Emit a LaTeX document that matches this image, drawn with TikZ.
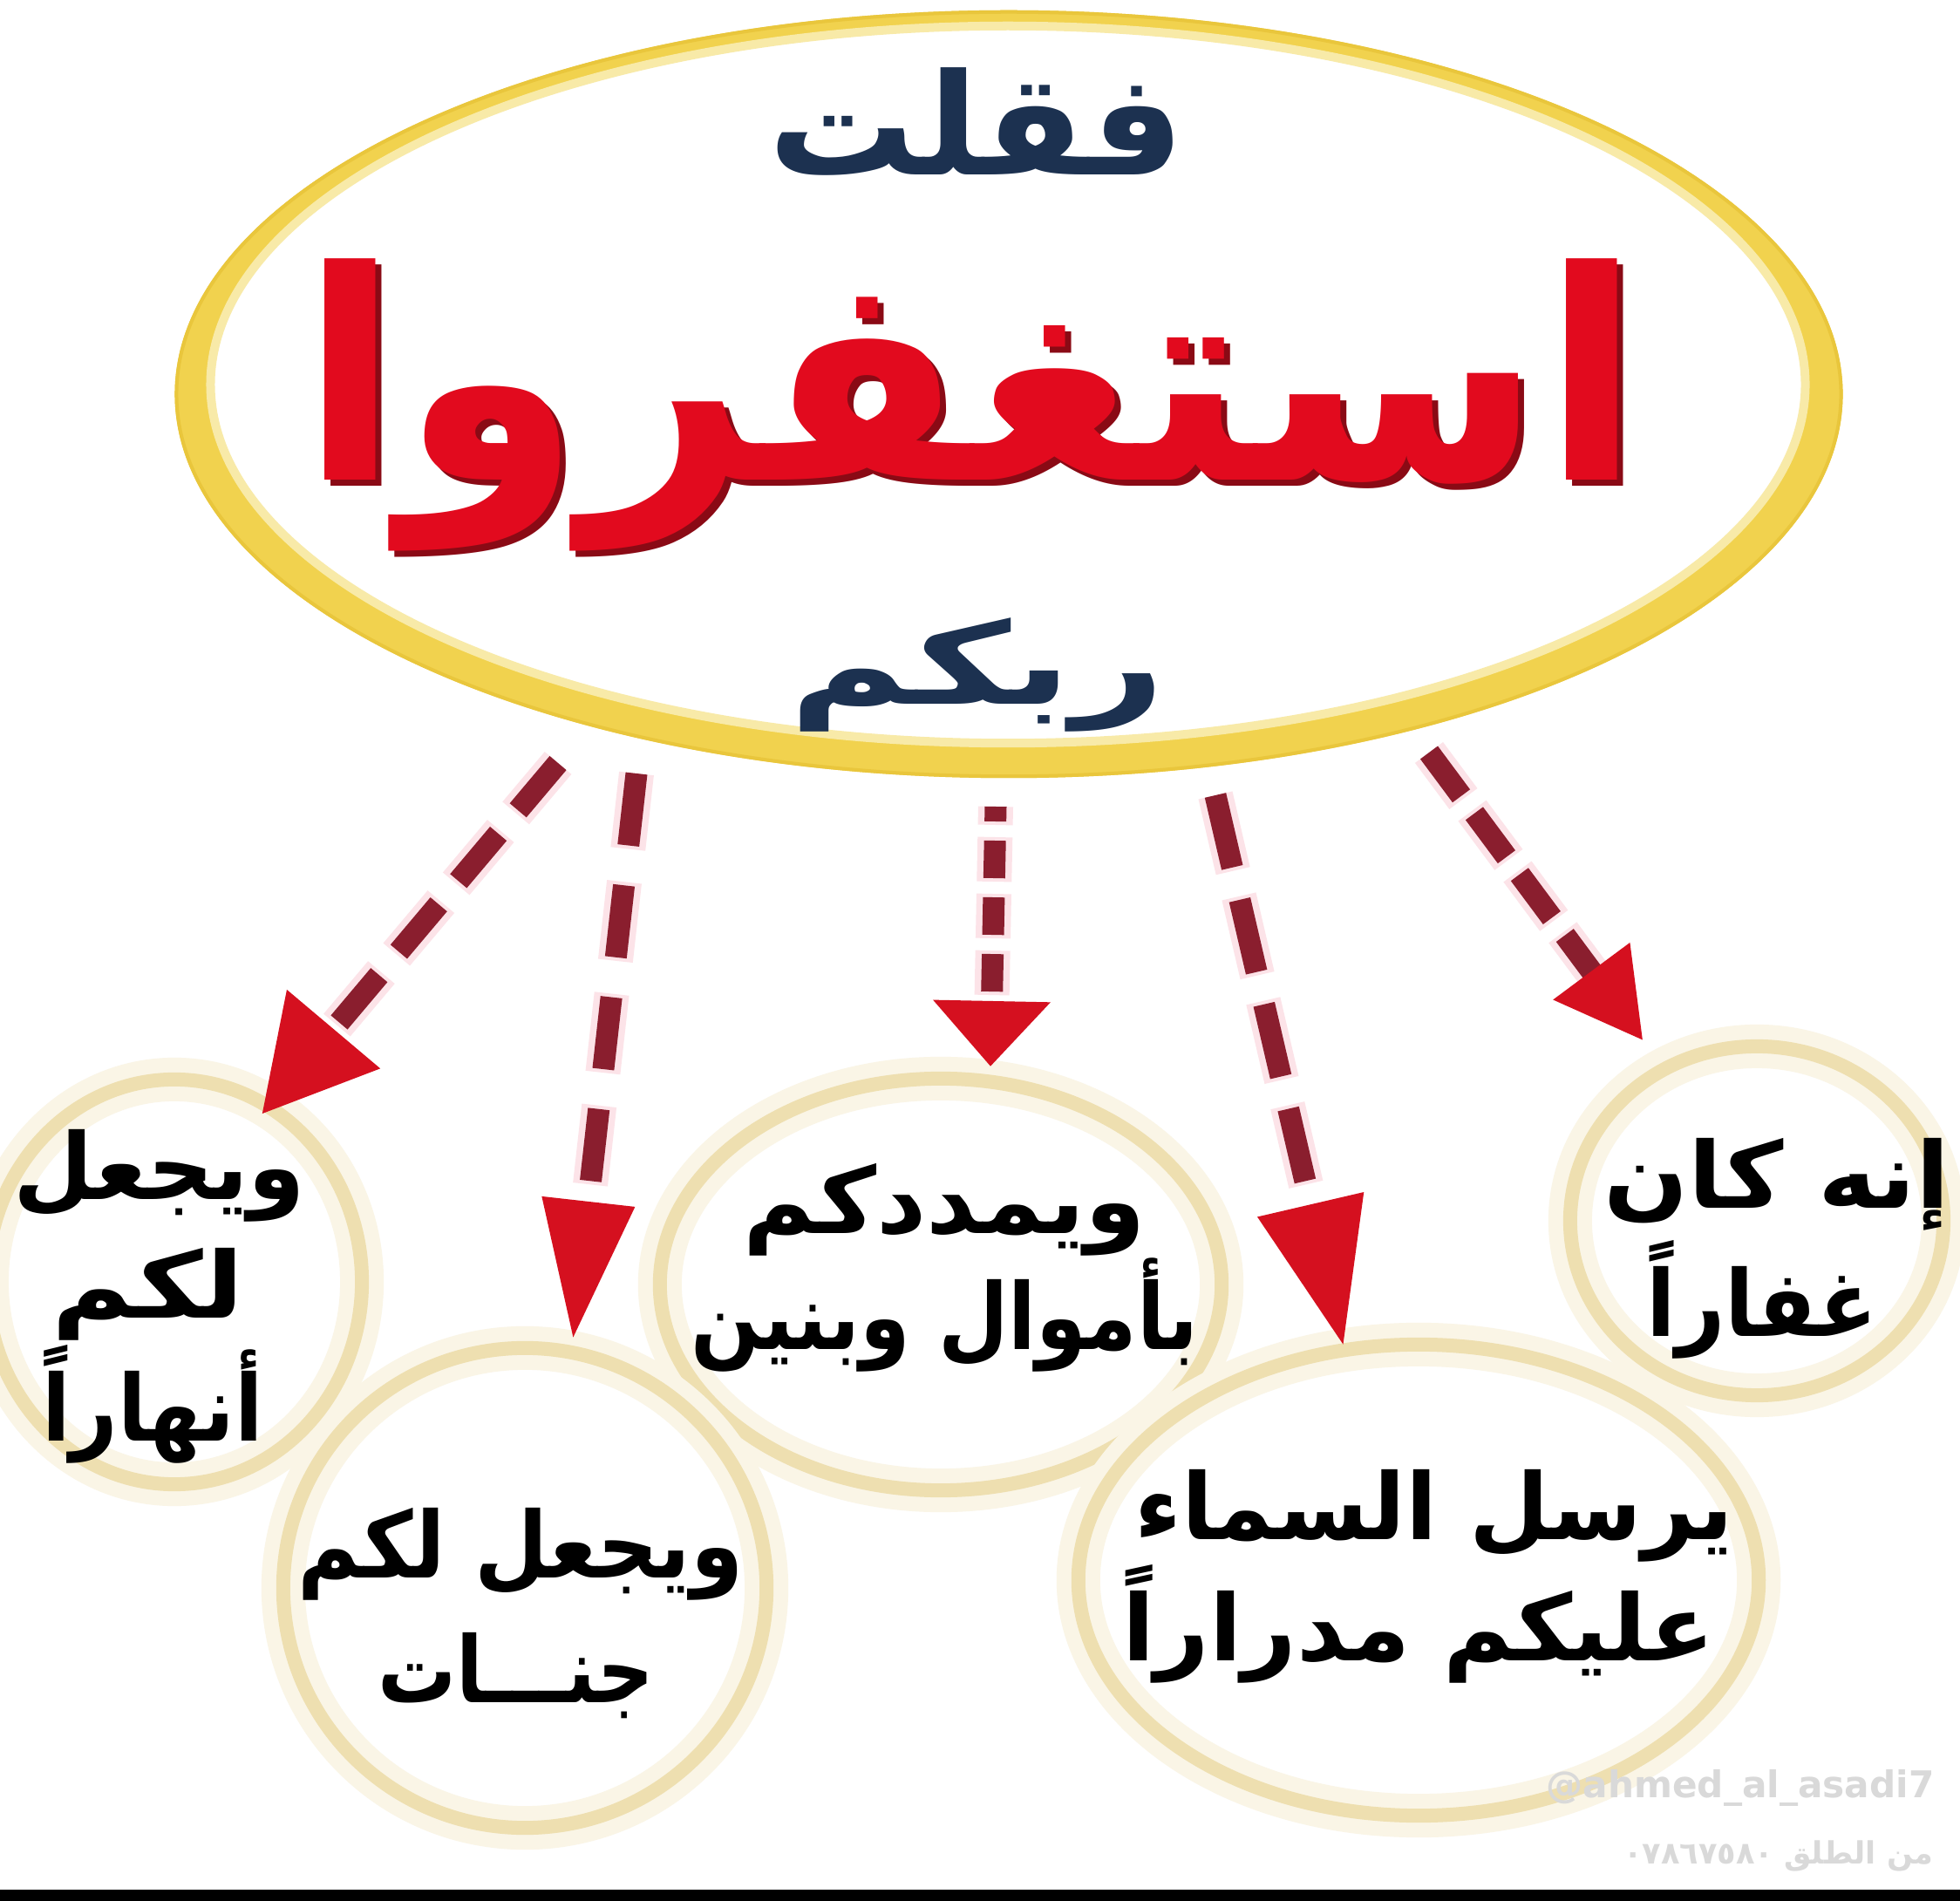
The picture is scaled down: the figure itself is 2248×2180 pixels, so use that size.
\documentclass[tikz,border=0pt]{standalone}
\usepackage{fontspec}
\usepackage{graphicx}
\usetikzlibrary{shapes.geometric,arrows.meta}
\TeXXeTstate=1
\newfontfamily\arfont[Script=Arabic]{DejaVu Sans}
\newcommand\artext[3]{\scalebox{#2}[1]{\arfont\bfseries\fontsize{#1}{#1}\selectfont #3}}
\definecolor{navy}{HTML}{1C3150}
\definecolor{titlered}{HTML}{E20A1E}
\definecolor{titleshadow}{HTML}{8A0A15}
\definecolor{shaftred}{HTML}{8A1E2E}
\definecolor{shaftglow}{HTML}{FCE3E8}
\definecolor{headred}{HTML}{D5101F}
\definecolor{gold}{HTML}{F1D24E}
\definecolor{golddark}{HTML}{E9C63C}
\definecolor{goldlight}{HTML}{F8EAA8}
\definecolor{cream}{HTML}{EEDFB0}
\definecolor{creamglow}{HTML}{FAF5E6}
\tikzset{
  smallring/.style={ellipse, draw=cream, line width=0.16cm,
    preaction={draw=creamglow, line width=0.5cm}},
  blacktext/.style={inner sep=0pt, text=black},
  navytext/.style={inner sep=0pt, text=navy},
  redtext/.style={inner sep=0pt, text=titlered},
  shadowtext/.style={inner sep=0pt, text=titleshadow},
  flow/.style n args={8}{draw=shaftred, line width=0.25cm, line cap=butt,
    dash pattern=on #1 off #2, dash phase=#5,
    preaction={draw=shaftglow, line width=0.4cm, -, shorten >=#3,
      dash pattern=on #6 off #7, dash phase=#8},
    -{Triangle[length=#3,width=#4,fill=headred,color=headred]}},
  wmark/.style={inner sep=0pt, text=black!15}
}
\begin{document}
\begin{tikzpicture}[x=0.01cm,y=-0.01cm]
\fill[white] (0,0) rectangle (2248,2180);
\useasboundingbox (0,0) rectangle (2248,2180);
\fill[black] (0,2167) rectangle (2248,2180);

% main gold ring (thicker at the sides)
\fill[gold, even odd rule] (1157,452) ellipse [x radius=9.56cm, y radius=4.4cm]
                           (1156,441) ellipse [x radius=9.1cm, y radius=4.07cm];
\draw[goldlight, line width=0.1cm] (1156,441) ellipse [x radius=9.14cm, y radius=4.11cm];
\draw[golddark, line width=0.04cm] (1157,452) ellipse [x radius=9.54cm, y radius=4.38cm];
\node[ellipse, minimum width=18.6cm, minimum height=8.4cm] (main) at (1157,448) {};

% small rings
\node[smallring, minimum width=4.3cm, minimum height=4.64cm] (c1) at (200,1470) {};
\node[smallring, minimum width=4.28cm, minimum height=4.0cm] (c5) at (2015,1400) {};
\node[smallring, minimum width=6.44cm, minimum height=4.72cm] (c3) at (1079,1473) {};
\node[smallring, minimum width=5.54cm, minimum height=5.5cm] (c2) at (602,1821) {};
\node[smallring, minimum width=7.8cm, minimum height=5.4cm] (c4) at (1627,1812) {};

% title texts
\node[navytext] (faqult) at (1120,139) {\artext{46}{1.04}{\beginR فقلت\endR}};
\node[shadowtext] (istshadow) at (1121,471) {\artext{95}{1}{\beginR استغفروا\endR}};
\node[redtext] (istighfaru) at (1114,464) {\artext{95}{1}{\beginR استغفروا\endR}};
\node[navytext] (rabbakum) at (1121,774) {\artext{37}{1.43}{\beginR ربكم\endR}};

% circle texts
\node[blacktext] (c1a) at (183,1348) {\artext{30}{1}{\beginR ويجعل\endR}};
\node[blacktext] (c1b) at (170,1484) {\artext{30}{1.2}{\beginR لكم\endR}};
\node[blacktext] (c1c) at (175,1610) {\artext{30}{0.9}{\beginR أنهاراً\endR}};
\node[blacktext] (c2a) at (597,1782) {\artext{30}{0.92}{\beginR ويجعل لكم\endR}};
\node[blacktext] (c2b) at (592,1922) {\artext{30}{0.85}{\beginR جنـــات\endR}};
\node[blacktext] (c3a) at (1083,1387) {\artext{30}{1.06}{\beginR ويمددكم\endR}};
\node[blacktext] (c3b) at (1083,1508) {\artext{30}{0.88}{\beginR بأموال وبنين\endR}};
\node[blacktext] (c4a) at (1645,1738) {\artext{30}{1}{\beginR يرسل السماء\endR}};
\node[blacktext] (c4b) at (1627,1862) {\artext{30}{1.03}{\beginR عليكم مدراراً\endR}};
\node[blacktext] (c5a) at (2038,1358) {\artext{30}{1.08}{\beginR إنه كان\endR}};
\node[blacktext] (c5b) at (2021,1490) {\artext{30}{0.93}{\beginR غفاراً\endR}};

% arrows
\coordinate (s1) at (640,875);  \coordinate (t1) at (300,1278);
\coordinate (s2) at (730,887);  \coordinate (t2) at (657,1537);
\coordinate (s3) at (1142,925); \coordinate (t3) at (1136,1223);
\coordinate (s4) at (1394,912); \coordinate (t4) at (1541,1544);
\coordinate (s5) at (1639,863); \coordinate (t5) at (1885,1194);
\draw[flow={0.71cm}{0.35cm}{1.28cm}{1.33cm}{0cm}{0.79cm}{0.27cm}{0.04cm}] (s1) -- (t1);
\draw[flow={0.83cm}{0.46cm}{1.6cm}{1.0cm}{0cm}{0.91cm}{0.38cm}{0.04cm}] (s2) -- (t2);
\draw[flow={0.43cm}{0.22cm}{0.75cm}{1.3cm}{0.26cm}{0.51cm}{0.14cm}{0.30cm}] (s3) -- (t3);
\draw[flow={0.85cm}{0.38cm}{1.67cm}{1.18cm}{0cm}{0.93cm}{0.30cm}{0.04cm}] (s4) -- (t4);
\draw[flow={0.62cm}{0.25cm}{1.0cm}{1.02cm}{0cm}{0.70cm}{0.17cm}{0.04cm}] (s5) -- (t5);

% watermark
\node[wmark] (wm1) at (1996,2050) {\fontspec{DejaVu Sans}\bfseries\fontsize{12}{12}\selectfont @ahmed\_al\_asadi7};
\node[wmark] (wm2) at (2040,2128) {{\arfont\bfseries\fontsize{10}{10}\selectfont\beginR من الطلق \beginL ٠٧٨٦٧٥٨٠\endL\endR}};
\end{tikzpicture}
\end{document}
